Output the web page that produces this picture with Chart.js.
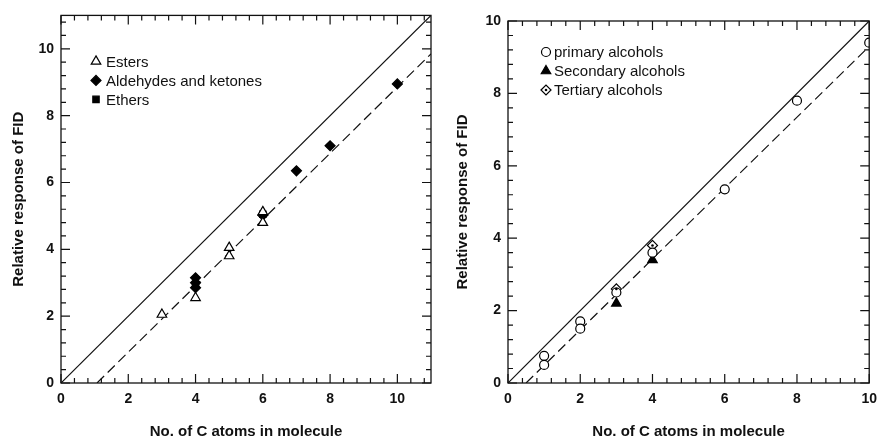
<!DOCTYPE html>
<html>
<head>
<meta charset="utf-8">
<script src="https://cdn.jsdelivr.net/npm/chart.js@4.4.1/dist/chart.umd.min.js"></script>
<style>
  html, body { margin: 0; padding: 0; background: #fff; }
  #wrap { position: relative; width: 885px; height: 439px; }
  .pane { position: absolute; top: 0; height: 439px; }
  #pl { left: 0; width: 440px; }
  #pr { left: 440px; width: 445px; }
</style>
</head>
<body>
<div id="wrap">
  <div class="pane" id="pl"><canvas id="cl"></canvas></div>
  <div class="pane" id="pr"><canvas id="cr"></canvas></div>
</div>
<script>
// ── Data ────────────────────────────────────────────────────
const xTitle = 'No. of C atoms in molecule';
const yTitle = 'Relative response of FID';

// left panel
const leftTicks = [0, 2, 4, 6, 8, 10];
const esters = [[3, 2.05], [4, 2.55], [5, 3.8], [5, 4.05], [6, 4.8], [6, 5.12]];
const aldKet = [[4, 2.85], [4, 3.0], [4, 3.15], [6, 5.02], [7, 6.35], [8, 7.1], [10, 8.95]];
const ethers = [[4, 2.95], [6, 5.05]];
const leftIdeal = [[0, 0], [11, 11]];
const leftFit = [[1.07, 0], [11, 9.85]];

// right panel
const rightTicks = [0, 2, 4, 6, 8, 10];
const primary = [[1, 0.75], [1, 0.5], [2, 1.7], [2, 1.5], [3, 2.5], [4, 3.6], [6, 5.35], [8, 7.8], [10, 9.4]];
const secondary = [[3, 2.2], [4, 3.4]];
const tertiary = [[3, 2.6], [4, 3.8]];
const rightIdeal = [[0, 0], [10, 10]];
const rightFit = [[0.5, 0], [10, 9.3]];

const FONT = '"Liberation Sans", Arial, Helvetica, sans-serif';
const pts = a => a.map(p => ({ x: p[0], y: p[1] }));

// ── Plugins ─────────────────────────────────────────────────
// frame + inward ticks on all four sides
const frameTicks = {
  id: 'frameTicks',
  afterDatasetsDraw(chart, args, o) {
    const { ctx, chartArea: a, scales } = chart;
    ctx.save();
    ctx.strokeStyle = '#111';
    ctx.lineWidth = 1.3;
    ctx.strokeRect(a.left, a.top, a.right - a.left, a.bottom - a.top);
    ctx.lineWidth = 1.2;
    ctx.beginPath();
    const step = o.minor, big = o.major;
    const xs = scales.x, ys = scales.y;
    for (let k = 0; k * step <= xs.max + 1e-6; k++) {
      const v = k * step;
      const len = Math.abs(v / big - Math.round(v / big)) < 1e-6 ? o.majorLen : o.minorLen;
      const px = xs.getPixelForValue(v);
      ctx.moveTo(px, a.bottom); ctx.lineTo(px, a.bottom - len);
      ctx.moveTo(px, a.top); ctx.lineTo(px, a.top + len);
    }
    for (let k = 0; k * step <= ys.max + 1e-6; k++) {
      const v = k * step;
      const len = Math.abs(v / big - Math.round(v / big)) < 1e-6 ? o.majorLen : o.minorLen;
      const py = ys.getPixelForValue(v);
      ctx.moveTo(a.left, py); ctx.lineTo(a.left + len, py);
      ctx.moveTo(a.right, py); ctx.lineTo(a.right - len, py);
    }
    ctx.stroke();

    // centre dot for the "dotted diamond" series
    chart.data.datasets.forEach((ds, i) => {
      if (!ds.centerDot) return;
      chart.getDatasetMeta(i).data.forEach(el => {
        ctx.beginPath();
        ctx.arc(el.x, el.y, 1.3, 0, Math.PI * 2);
        ctx.fillStyle = '#000';
        ctx.fill();
      });
    });
    ctx.restore();
  }
};

// legend drawn inside the plot box
const boxLegend = {
  id: 'boxLegend',
  afterDraw(chart, args, o) {
    const { ctx, chartArea: a } = chart;
    ctx.save();
    ctx.font = o.font;
    ctx.textBaseline = 'middle';
    o.items.forEach((idx, i) => {
      const ds = chart.data.datasets[idx];
      const y = a.top + o.y + i * o.gap;
      const x = a.left + o.x;
      ctx.fillStyle = ds.pointBackgroundColor;
      ctx.strokeStyle = ds.pointBorderColor;
      ctx.lineWidth = ds.pointBorderWidth;
      Chart.helpers.drawPoint(ctx, {
        pointStyle: ds.pointStyle, rotation: 0,
        radius: ds.pointRadius, borderWidth: ds.pointBorderWidth
      }, x, y);
      if (ds.centerDot) {
        ctx.beginPath();
        ctx.arc(x, y, 1.3, 0, Math.PI * 2);
        ctx.fillStyle = '#000';
        ctx.fill();
      }
      ctx.fillStyle = '#111';
      ctx.fillText(ds.label, x + o.textDx, y + 1);
    });
    ctx.restore();
  }
};

function marker(label, data, style, fill, r, dot) {
  return {
    label, data: pts(data), showLine: false,
    pointStyle: style, pointRadius: r, pointHoverRadius: r,
    pointBackgroundColor: fill, pointBorderColor: '#000', pointBorderWidth: 1.2,
    centerDot: !!dot,
    order: 1
  };
}

function fitLine(label, data, dash) {
  return {
    label, data: pts(data), showLine: true, pointRadius: 0,
    borderColor: '#111', borderWidth: 1.2, borderDash: dash,
    order: 5
  };
}

function makeChart(id, cfg) {
  return new Chart(document.getElementById(id), {
    type: 'scatter',
    data: { datasets: cfg.datasets },
    options: {
      responsive: true,
      maintainAspectRatio: false,
      animation: false,
      events: [],
      layout: { padding: { top: cfg.top, right: cfg.right, left: 0, bottom: 0 } },
      plugins: {
        legend: { display: false },
        tooltip: { enabled: false },
        frameTicks: { minor: 0.4, major: 2, majorLen: 9, minorLen: 5 },
        boxLegend: cfg.legend
      },
      scales: {
        x: {
          type: 'linear', min: 0, max: cfg.max,
          grid: { display: false, drawTicks: false },
          border: { display: false },
          afterBuildTicks: s => { s.ticks = cfg.ticks.map(v => ({ value: v })); },
          afterFit: s => { s.height = 56; },
          ticks: { padding: 8, color: '#111', font: { family: FONT, size: 14, weight: 'bold' } },
          title: {
            display: true, text: xTitle, color: '#111',
            font: { family: FONT, size: 15, weight: 'bold', lineHeight: 1 },
            padding: { top: 0, bottom: 0 }
          }
        },
        y: {
          type: 'linear', min: 0, max: cfg.max,
          grid: { display: false, drawTicks: false },
          border: { display: false },
          afterBuildTicks: s => { s.ticks = cfg.ticks.map(v => ({ value: v })); },
          afterFit: s => { s.width = cfg.yWidth; },
          ticks: { padding: 7, color: '#111', font: { family: FONT, size: 14, weight: 'bold' } },
          title: {
            display: true, text: yTitle, color: '#111',
            font: { family: FONT, size: 15, weight: 'bold', lineHeight: 1 },
            padding: { top: cfg.titlePad, bottom: 0 }
          }
        }
      }
    },
    plugins: [frameTicks, boxLegend]
  });
}

// ── Left panel ──────────────────────────────────────────────
makeChart('cl', {
  max: 11, ticks: leftTicks, top: 15, right: 9, yWidth: 61, titlePad: 11, titleSize: 15,
  datasets: [
    marker('Esters', esters, 'triangle', '#fff', 5.5),
    marker('Aldehydes and ketones', aldKet, 'rectRot', '#000', 5),
    marker('Ethers', ethers, 'rect', '#000', 4.5),
    fitLine('ideal', leftIdeal, []),
    fitLine('fit', leftFit, [10, 5])
  ],
  legend: { items: [0, 1, 2], x: 35, y: 46, gap: 19, textDx: 10, font: '15px ' + FONT }
});

// ── Right panel ─────────────────────────────────────────────
makeChart('cr', {
  max: 10, ticks: rightTicks, top: 21, right: 8, yWidth: 68, titlePad: 15.5,
  datasets: [
    marker('primary alcohols', primary, 'circle', '#fff', 4.5),
    marker('Secondary alcohols', secondary, 'triangle', '#000', 5.5),
    marker('Tertiary alcohols', tertiary, 'rectRot', '#fff', 5, true),
    fitLine('ideal', rightIdeal, []),
    fitLine('fit', rightFit, [10, 5])
  ],
  legend: { items: [0, 1, 2], x: 38, y: 31, gap: 19, textDx: 8, font: '15px ' + FONT }
});
</script>
</body>
</html>
